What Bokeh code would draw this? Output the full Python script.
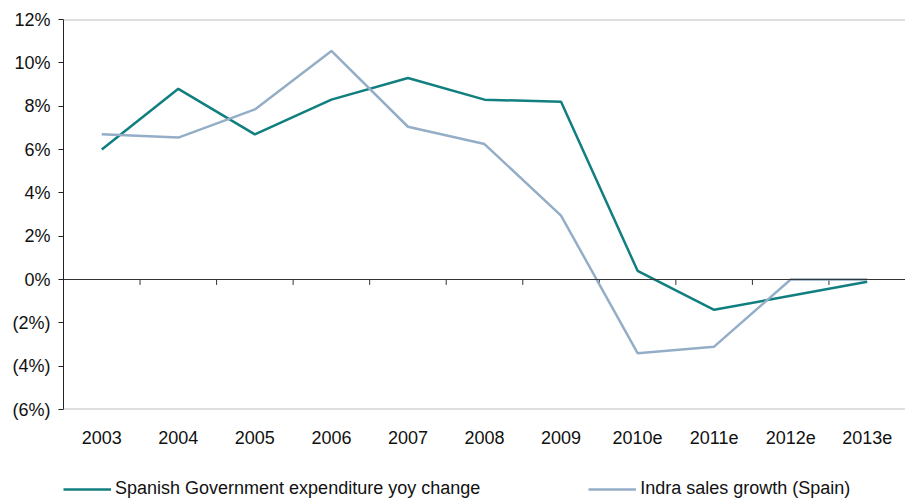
from bokeh.plotting import figure
from bokeh.layouts import column
from bokeh.models import FixedTicker, Span, Legend, LegendItem, Range1d
from bokeh.embed import file_html
from bokeh.resources import INLINE

categories = ["2003", "2004", "2005", "2006", "2007", "2008", "2009", "2010e", "2011e", "2012e", "2013e"]
gov_expenditure = [6.0, 8.8, 6.7, 8.3, 9.3, 8.3, 8.2, 0.4, -1.4, -0.75, -0.1]
indra_sales = [6.7, 6.55, 7.85, 10.55, 7.05, 6.25, 2.95, -3.4, -3.1, 0.0, 0.0]
y_ticks = [-6, -4, -2, 0, 2, 4, 6, 8, 10, 12]
y_tick_labels = ["(6%)", "(4%)", "(2%)", "0%", "2%", "4%", "6%", "8%", "10%", "12%"]
series_names = ["Spanish Government expenditure yoy change", "Indra sales growth (Spain)"]

FONT = "Liberation Sans"
TEAL = "#117F80"
BLUEGRAY = "#94AEC7"

xs = list(range(len(categories)))

p = figure(frame_width=842, frame_height=390, output_backend="svg", toolbar_location=None,
           x_range=Range1d(-0.5, 10.5), y_range=Range1d(-6, 12),
           min_border_left=63, min_border_right=0, min_border_top=19, min_border_bottom=51)
p.outline_line_color = None
p.xgrid.visible = False
p.ygrid.visible = False
p.background_fill_color = "white"
p.border_fill_color = "white"

# y axis
p.yaxis.ticker = FixedTicker(ticks=y_ticks)
p.yaxis.major_label_overrides = {t: l for t, l in zip(y_ticks, y_tick_labels)}
p.yaxis.axis_line_color = "#222222"
p.yaxis.major_tick_line_color = "#222222"
p.yaxis.major_tick_out = 5
p.yaxis.major_tick_in = 0
p.yaxis.minor_tick_line_color = None
p.yaxis.major_label_text_font = FONT
p.yaxis.major_label_text_font_size = "18px"
p.yaxis.major_label_text_color = "#111111"
p.yaxis.major_label_standoff = 8

# x axis
p.xaxis.ticker = FixedTicker(ticks=xs)
p.xaxis.major_label_overrides = {i: c for i, c in enumerate(categories)}
p.xaxis.axis_line_color = None
p.xaxis.major_tick_line_color = None
p.xaxis.minor_tick_line_color = None
p.xaxis.major_label_text_font = FONT
p.xaxis.major_label_text_font_size = "18px"
p.xaxis.major_label_text_color = "#111111"
p.xaxis.major_label_standoff = 15

# top and bottom frame lines
p.add_layout(Span(location=12, dimension="width", line_color="#C0C0C0", line_width=2))
p.add_layout(Span(location=-6, dimension="width", line_color="#C0C0C0", line_width=2))
# zero line with category-boundary ticks
p.add_layout(Span(location=0, dimension="width", line_color="#333333", line_width=1))
bounds = [i + 0.5 for i in xs[:-1]]
p.segment(x0=bounds, x1=bounds, y0=[0] * len(bounds), y1=[-0.25] * len(bounds),
          line_color="#333333", line_width=1)

p.line(xs, gov_expenditure, line_color=TEAL, line_width=2.5)
p.line(xs, indra_sales, line_color=BLUEGRAY, line_width=2.5)

# legend strip (its lines carry the series but sit outside the strip's visible range)
p2 = figure(width=905, height=39, output_backend="svg", toolbar_location=None,
            x_axis_type=None, y_axis_type=None,
            x_range=Range1d(-0.5, 10.5), y_range=Range1d(100, 101),
            min_border_left=0, min_border_right=0, min_border_top=0, min_border_bottom=0)
p2.outline_line_color = None
p2.xgrid.visible = False
p2.ygrid.visible = False
p2.border_fill_color = "white"
l1 = p2.line(xs, gov_expenditure, line_color=TEAL, line_width=2.5)
l2 = p2.line(xs, indra_sales, line_color=BLUEGRAY, line_width=2.5)

legend = Legend(items=[LegendItem(label=series_names[0], renderers=[l1]),
                       LegendItem(label=series_names[1], renderers=[l2])],
                orientation="horizontal", location=(0, 0),
                glyph_width=48, glyph_height=16, label_standoff=4, spacing=108,
                padding=0, margin=0, border_line_color=None, background_fill_alpha=0,
                label_text_font=FONT, label_text_font_size="18px", label_text_color="#111111")
p2.add_layout(legend, "center")

layout = column(p, p2, spacing=0)
open("out.html", "w").write(file_html(layout, INLINE))
